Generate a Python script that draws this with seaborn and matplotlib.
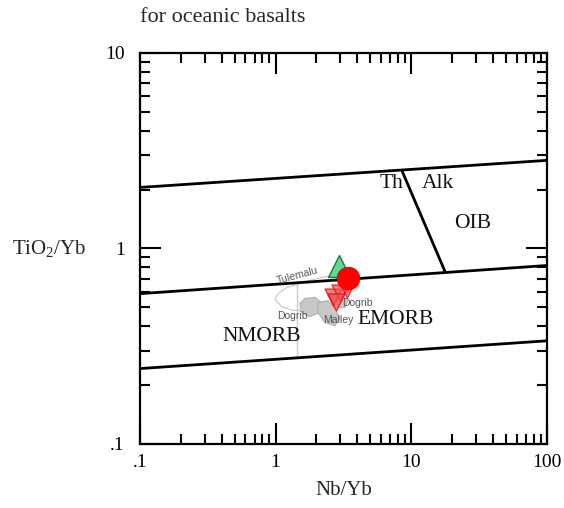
import matplotlib
matplotlib.use('Agg')
import matplotlib.pyplot as plt
import seaborn as sns
from matplotlib.ticker import LogLocator, FixedLocator, FixedFormatter, NullFormatter

# boundary lines of the discrimination diagram (Nb/Yb, TiO2/Yb)
UPPER_X = [0.1, 100]
UPPER_Y = [2.05, 2.82]
MIDDLE_X = [0.1, 100]
MIDDLE_Y = [0.587, 0.818]
LOWER_X = [0.1, 100]
LOWER_Y = [0.243, 0.337]
THALK_X = [8.5, 17.7]
THALK_Y = [2.51, 0.762]
MORB_X = [1.44, 1.44]
MORB_Y = [0.66, 0.279]

FIELD_LABELS = ['Th', 'Alk', 'OIB', 'NMORB', 'EMORB']
FIELD_X = [7.19, 15.7, 28.4, 0.79, 7.7]
FIELD_Y = [2.15, 2.15, 1.34, 0.354, 0.433]

# Tulemalu trend
TULEMALU_X = [2.73, 1.79, 1.21, 1.04, 0.99, 1.11, 1.34, 1.64]
TULEMALU_Y = [0.736, 0.686, 0.631, 0.588, 0.547, 0.505, 0.481, 0.486]

# gray comparison fields
DOGRIB_W_X = [1.51, 1.64, 1.95, 2.19, 2.12, 1.79, 1.55]
DOGRIB_W_Y = [0.523, 0.555, 0.561, 0.528, 0.470, 0.448, 0.470]
MALLEY_X = [2.05, 2.43, 2.73, 2.98, 2.73, 2.31, 2.05]
MALLEY_Y = [0.528, 0.541, 0.492, 0.438, 0.403, 0.418, 0.470]
DOGRIB_E_X = [2.78, 3.13, 3.41, 3.24, 2.88]
DOGRIB_E_Y = [0.555, 0.567, 0.541, 0.498, 0.498]

REF_LABELS = ['Tulemalu', 'Dogrib', 'Malley', 'Dogrib']
REF_X = [1.44, 1.34, 2.88, 4.0]
REF_Y = [0.728, 0.453, 0.428, 0.523]
REF_ROT = [15, 0, 0, 0]

# samples
TRI_DOWN_X = [2.64, 2.98, 3.35, 2.78]
TRI_DOWN_Y = [0.567, 0.594, 0.617, 0.535]
TRI_UP_X = [2.93]
TRI_UP_Y = [0.81]
CIRCLE_X = [3.41]
CIRCLE_Y = [0.71]

SERIF = ['Liberation Serif', 'DejaVu Serif']


def main():
    sns.set_style('ticks')
    plt.rcParams['font.family'] = SERIF
    plt.rcParams['mathtext.fontset'] = 'custom'
    plt.rcParams['mathtext.rm'] = 'Liberation Serif'
    plt.rcParams['mathtext.it'] = 'Liberation Serif'
    fig = plt.figure(figsize=(5.64, 5.08), dpi=100)
    ax = fig.add_axes([0.248, 0.126, 0.722, 0.770])
    ax.set_xscale('log')
    ax.set_yscale('log')

    for xs, ys in [(UPPER_X, UPPER_Y), (MIDDLE_X, MIDDLE_Y), (LOWER_X, LOWER_Y),
                   (THALK_X, THALK_Y), (MORB_X, MORB_Y)]:
        sns.lineplot(x=xs, y=ys, sort=False, color='black', lw=2, ax=ax, zorder=3)

    for lab, x, y in zip(FIELD_LABELS, FIELD_X, FIELD_Y):
        ax.text(x, y, lab, fontsize=15.5, ha='center', va='center', color='#111111', zorder=6)

    for xs, ys in [(DOGRIB_W_X, DOGRIB_W_Y), (MALLEY_X, MALLEY_Y), (DOGRIB_E_X, DOGRIB_E_Y)]:
        ax.fill(xs, ys, facecolor='#c8c8c8', edgecolor='#b0b0b0', lw=0.8, zorder=2)

    sns.lineplot(x=TULEMALU_X, y=TULEMALU_Y, sort=False, color='#c4c4c4', lw=0.8, ax=ax, zorder=2)

    for lab, x, y, r in zip(REF_LABELS, REF_X, REF_Y, REF_ROT):
        ax.text(x, y, lab, fontsize=7.5, ha='center', va='center', rotation=r,
                color='#555555', family=['Liberation Sans', 'DejaVu Sans'], zorder=7)

    sns.scatterplot(x=TRI_DOWN_X, y=TRI_DOWN_Y, marker='v', s=150, color='#f25050',
                    edgecolor='#e00000', alpha=0.7, linewidth=1, ax=ax, zorder=4)
    sns.scatterplot(x=TRI_UP_X, y=TRI_UP_Y, marker='^', s=250, color='#5fd890',
                    edgecolor='#108040', linewidth=1, ax=ax, zorder=4)
    sns.scatterplot(x=CIRCLE_X, y=CIRCLE_Y, marker='o', s=270, color='#ff0000',
                    edgecolor='#e00000', linewidth=0.5, ax=ax, zorder=5)

    ax.set_xlim(0.1, 100)
    ax.set_ylim(0.1, 10)
    ax.xaxis.set_major_locator(FixedLocator([0.1, 1, 10, 100]))
    ax.xaxis.set_major_formatter(FixedFormatter(['.1', '1', '10', '100']))
    ax.yaxis.set_major_locator(FixedLocator([0.1, 1, 10]))
    ax.yaxis.set_major_formatter(FixedFormatter(['.1', '1', '10']))
    for axis in (ax.xaxis, ax.yaxis):
        axis.set_minor_locator(LogLocator(base=10, subs=range(2, 10)))
        axis.set_minor_formatter(NullFormatter())
    ax.tick_params(which='both', direction='in', top=True, right=True, width=1.5,
                   colors='black', labelsize=14)
    ax.tick_params(which='major', length=15)
    ax.tick_params(which='minor', length=7.5)
    ax.tick_params(axis='x', which='both', pad=7)
    ax.tick_params(axis='y', which='both', pad=11)
    for sp in ax.spines.values():
        sp.set_linewidth(1.6)
        sp.set_color('black')

    ax.set_xlabel('Nb/Yb', fontsize=15, va='center')
    ax.xaxis.set_label_coords(0.5, -0.12)
    ax.set_ylabel('TiO$_2$/Yb', fontsize=15, rotation=0, va='center', ha='center')
    ax.yaxis.set_label_coords(-0.224, 0.5)
    fig.text(0.248, 0.965, 'for oceanic basalts', fontsize=16, va='center')

    fig.savefig('out.png', dpi=100)


if __name__ == '__main__':
    main()
